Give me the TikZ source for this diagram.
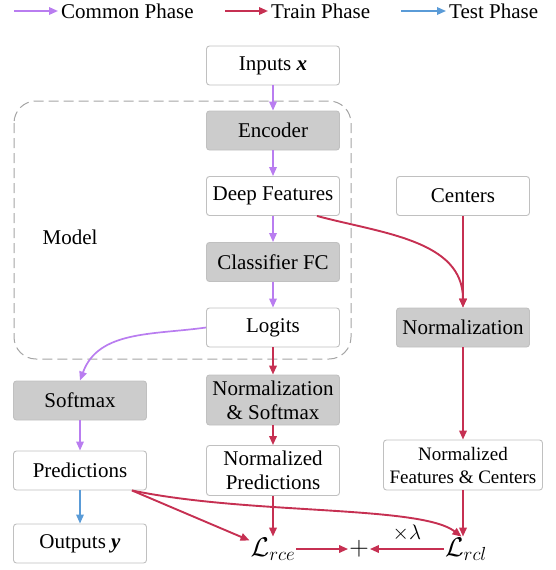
\RequirePackage{fix-cm}
\documentclass[tikz,border=0pt]{standalone}
\usepackage{amsmath, amssymb}
\usepackage{fontspec}
\setmainfont{Liberation Serif}
\usepackage{tikz}
\usetikzlibrary{positioning, arrows.meta}

\definecolor{commonc}{RGB}{185,125,240}
\definecolor{trainc}{RGB}{198,48,82}
\definecolor{testc}{RGB}{90,155,215}
\definecolor{boxline}{RGB}{192,192,192}
\definecolor{boxfill}{RGB}{204,204,204}
\definecolor{dashc}{RGB}{165,165,165}

\tikzset{
    box/.style={draw=boxline, line width=0.9pt, rounded corners=3pt, fill=white,
        minimum width=133pt, minimum height=39pt, inner sep=2pt, align=center,
        font=\fontsize{21}{24}\selectfont},
    graybox/.style={box, fill=boxfill},
    loss/.style={inner sep=1pt, font=\fontsize{27}{30}\selectfont},
    tip/.style={-{Triangle[length=9pt,width=7.5pt]}},
    common/.style={tip, commonc, line width=1.7pt},
    train/.style={tip, trainc, line width=1.9pt},
    test/.style={tip, testc, line width=1.7pt}
}

\begin{document}
\begin{tikzpicture}[x=1pt, y=-1pt]
    \useasboundingbox (0,0) rectangle (555,570);

    % Legend
    \foreach \c/\xa/\xb/\t in {common/14/58/Common Phase, train/225/268/Train Phase, test/401/446/Test Phase} {
      \coordinate (leg\c) at (\xa,11);
      \node[anchor=west, inner sep=3pt, font=\fontsize{21}{24}\selectfont] (legtxt\c) at (\xb,11) {\t};
      \draw[\c] (leg\c) -- (legtxt\c.west);
    }

    % Model frame
    \draw[dashc, line width=1pt, dash pattern=on 10pt off 5pt, rounded corners=22pt] (14,101) rectangle (351,359);
    \node[font=\fontsize{21}{24}\selectfont] (model) at (70,237) {Model};

    % Middle column
    \node[box] (inputs) at (273,65.5) {Inputs \textbf{\textit{x}}};
    \node[graybox] (encoder) at (273,130.5) {Encoder};
    \node[box] (deep) at (273,196) {Deep Features};
    \node[graybox] (classifier) at (273,262) {Classifier FC};
    \node[box] (logits) at (273,327.5) {Logits};
    \node[graybox, minimum height=50pt] (normsoft) at (273,400) {Normalization\\\& Softmax};
    \node[box, minimum height=50pt] (normpred) at (273,470.5) {Normalized\\Predictions};

    % Left column
    \node[graybox] (softmax) at (80,400.5) {Softmax};
    \node[box] (preds) at (80,470.5) {Predictions};
    \node[box] (outputs) at (80,543.5) {Outputs \textbf{\textit{y}}};

    % Right column
    \node[box] (centers) at (463,196) {Centers};
    \node[graybox] (normal) at (463,327.5) {Normalization};
    \node[box, minimum width=159pt, minimum height=50pt, font=\fontsize{19}{23}\selectfont] (normfeat) at (463,465) {Normalized\\Features \& Centers};

    % Losses
    \node[loss] (lrce) at (273,549) {$\mathcal{L}_{rce}$};
    \node[loss] (plus) at (359,549) {$+$};
    \node[loss] (lrcl) at (466,549) {$\mathcal{L}_{rcl}$};

    % Common phase
    \draw[common] (inputs) -- (encoder);
    \draw[common] (encoder) -- (deep);
    \draw[common] (deep) -- (classifier);
    \draw[common] (classifier) -- (logits);
    \draw[common] (logits.west) to[out=188, in=70] (softmax.north);
    \draw[common] (softmax) -- (preds);

    % Test phase
    \draw[test] (preds) -- (outputs);

    % Train phase
    \draw[train] (logits) -- (normsoft);
    \draw[train] (normsoft) -- (normpred);
    \draw[train] (normpred) -- (lrce.north);
    \draw[train] ([xshift=-23pt]deep.south east) to[out=-15, in=90] (normal.north);
    \draw[train] (centers) -- (normal);
    \draw[train] (normal) -- (normfeat);
    \draw[train] (normfeat.south) -- (lrcl.north -| normfeat.south);
    \draw[train] ([xshift=-15pt]preds.south east) -- (lrce.160);
    \draw[train] ([xshift=-15pt]preds.south east) .. controls (250,515) and (420,505) .. (lrcl.110);
    \draw[train] (lrce) -- (plus);
    \draw[train] (lrcl) -- node[above=3pt, black, font=\fontsize{21}{24}\selectfont] (lambda) {$\times\lambda$} (plus);
\end{tikzpicture}
\end{document}
